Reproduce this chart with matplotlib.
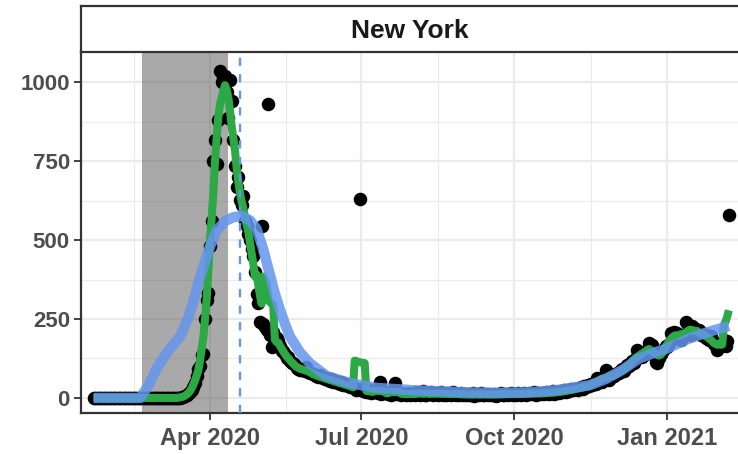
import pandas as pd
import matplotlib
matplotlib.use('Agg')
import matplotlib.pyplot as plt
import matplotlib.dates as mdates

# daily deaths (Jan 22 2020 .. Feb 7 2021)
jan_2020 = [0, 0, 0, 0, 0, 0, 0, 0, 0, 0]
feb_2020 = [0, 0, 0, 0, 0, 0, 0, 0, 0, 0, 0, 0, 0, 0, 0, 0, 0, 0, 0, 0,
            0, 0, 0, 0, 0, 0, 0, 0, 0]
mar_2020 = [0, 0, 0, 0, 0, 0, 0, 0, 0, 0, 0, 0, 0, 0, 2, 4, 6, 9, 13, 18,
            26, 35, 48, 70, 92, 100, 135, 140, 250, 310, 332]
apr_2020 = [480, 560, 750, 815, 740, 880, 1035, 1000, 1015, 1020, 968, 886,
            1005, 940, 816, 735, 668, 700, 627, 610, 640, 560, 545, 520, 500,
            470, 450, 400, 330, 300]
may_2020 = [240, 545, 235, 225, 215, 930, 200, 160, 210, 185, 190, 180, 165,
            150, 150, 140, 125, 130, 118, 112, 110, 105, 95, 92, 90, 88, 92,
            85, 98, 82, 80]
jun_2020 = [78, 75, 72, 70, 68, 72, 65, 62, 60, 64, 58, 55, 60, 52, 50, 55,
            48, 45, 50, 42, 40, 45, 38, 36, 40, 34, 32, 25, 30, 630]
jul_2020 = [28, 22, 30, 20, 18, 25, 15, 20, 18, 22, 16, 50, 14, 18, 20, 15,
            12, 16, 10, 14, 48, 12, 20, 15, 10, 12, 14, 9, 15, 11, 12]
aug_2020 = [14, 10, 18, 12, 9, 16, 22, 11, 8, 15, 13, 19, 10, 12, 17, 9, 14,
            20, 11, 13, 8, 16, 12, 10, 18, 14, 9, 13, 11, 15, 10]
sep_2020 = [12, 9, 14, 8, 11, 16, 7, 10, 13, 9, 15, 11, 8, 12, 10, 14, 9, 11,
            13, 7, 10, 12, 15, 9, 11, 14, 10, 12, 16, 11]
oct_2020 = [13, 10, 15, 12, 9, 14, 17, 11, 13, 16, 12, 15, 18, 10, 14, 17, 13,
            16, 12, 19, 15, 14, 18, 21, 13, 17, 20, 16, 22, 19, 24]
nov_2020 = [20, 24, 22, 27, 25, 30, 28, 26, 32, 35, 30, 38, 34, 40, 37, 43,
            40, 46, 44, 63, 50, 55, 52, 60, 89, 62, 58, 68, 72, 70]
dec_2020 = [75, 80, 78, 88, 92, 85, 95, 105, 100, 112, 118, 110, 125, 152,
            136, 140, 130, 145, 138, 150, 174, 161, 168, 150, 114, 111, 125,
            140, 145, 155, 165]
jan_2021 = [160, 170, 205, 195, 209, 200, 205, 190, 185, 195, 195, 240, 205,
            215, 200, 228, 221, 205, 210, 215, 200, 205, 195, 190, 200, 185,
            195, 180, 170, 175, 152]
feb_2021 = [160, 168, 175, 184, 165, 180, 580]

# fitted curve (blue), read at a set of dates
fit_dates = ['2020-01-22', '2020-02-19', '2020-02-24', '2020-02-29', '2020-03-07',
             '2020-03-14', '2020-03-19', '2020-03-22', '2020-03-25', '2020-03-28',
             '2020-04-01', '2020-04-05', '2020-04-10', '2020-04-15', '2020-04-20',
             '2020-04-25', '2020-04-29', '2020-05-03', '2020-05-07', '2020-05-10',
             '2020-05-13', '2020-05-16', '2020-05-19', '2020-05-25', '2020-05-31',
             '2020-06-10', '2020-06-24', '2020-07-10', '2020-08-03', '2020-09-01',
             '2020-09-20', '2020-10-10', '2020-10-25', '2020-11-15', '2020-11-25',
             '2020-12-05', '2020-12-15', '2020-12-25', '2021-01-01', '2021-01-14',
             '2021-01-25', '2021-02-07']
fit_vals = [0, 0, 40, 95, 150, 195, 255, 305, 365, 415, 480, 530, 560, 572, 576,
            562, 535, 470, 390, 330, 280, 235, 195, 145, 110, 70, 47, 32, 24, 18,
            16, 18, 24, 40, 60, 89, 125, 145, 157, 188, 208, 228]

deaths = (jan_2020 + feb_2020 + mar_2020 + apr_2020 + may_2020 + jun_2020 +
          jul_2020 + aug_2020 + sep_2020 + oct_2020 + nov_2020 + dec_2020 +
          jan_2021 + feb_2021)
dates = pd.date_range('2020-01-22', periods=len(deaths))
rolling = pd.Series(deaths).rolling(7, center=True, min_periods=1).mean()
fit_dates = pd.to_datetime(fit_dates)

shade_start = pd.Timestamp('2020-02-20')
shade_end = pd.Timestamp('2020-04-12')
peak_day = pd.Timestamp('2020-04-19')

W, H = 738, 454
fig = plt.figure(figsize=(W / 100, H / 100), dpi=100)
ax = fig.add_axes([81 / W, (H - 413) / H, (W - 81) / W, (413 - 52) / H])
strip = fig.add_axes([81 / W, (H - 52) / H, (W - 81) / W, (52 - 6) / H])

apr1 = pd.Timestamp('2020-04-01')
ax.set_xlim(apr1 - pd.Timedelta(days=77.6), apr1 + pd.Timedelta(days=317.5))
ax.set_ylim(-47.5, 1095)

# grid
for d in ['2020-02-15 12:00', '2020-05-16 12:00', '2020-08-16', '2020-11-16']:
    ax.axvline(pd.Timestamp(d), color='#EBEBEB', lw=0.8, zorder=0)
for d in ['2020-04-01', '2020-07-01', '2020-10-01', '2021-01-01']:
    ax.axvline(pd.Timestamp(d), color='#EBEBEB', lw=1.6, zorder=0)
for y in [125, 375, 625, 875]:
    ax.axhline(y, color='#EBEBEB', lw=0.8, zorder=0)
for y in [0, 250, 500, 750, 1000]:
    ax.axhline(y, color='#EBEBEB', lw=1.6, zorder=0)

ax.axvspan(shade_start, shade_end, color='#555555', alpha=0.5, lw=0, zorder=1)

ax.scatter(dates, deaths, s=95, color='black', linewidths=0, zorder=2)
ax.plot(dates, rolling, color='#F8766D', lw=4.5, zorder=3,
        solid_joinstyle='round', solid_capstyle='butt')
ax.plot(dates, rolling, color='#2CA844', lw=5.8, zorder=4,
        solid_joinstyle='round', solid_capstyle='butt')
ax.plot(fit_dates, fit_vals, color='#6495ED', lw=7.5, alpha=0.85, zorder=5,
        solid_joinstyle='round', solid_capstyle='butt')
ax.axvline(peak_day, color='#6495ED', lw=1.7, ls=(0, (3.5, 3.5)), zorder=6)

ax.set_xticks(pd.to_datetime(['2020-04-01', '2020-07-01', '2020-10-01', '2021-01-01']))
ax.xaxis.set_major_formatter(mdates.DateFormatter('%b %Y'))
ax.set_yticks([0, 250, 500, 750, 1000])
ax.tick_params(axis='both', colors='#333333', width=1.3, length=5,
               labelcolor='#4D4D4D', pad=3)
ax.tick_params(axis='x', labelsize=17, pad=5)
ax.tick_params(axis='y', labelsize=16)
for lab in ax.get_xticklabels() + ax.get_yticklabels():
    lab.set_fontweight('bold')
    lab.set_fontfamily('Liberation Sans')

for s in ['top', 'right']:
    ax.spines[s].set_visible(False)
for s in ['left', 'bottom']:
    ax.spines[s].set_color('#333333')
    ax.spines[s].set_linewidth(1.6)

strip.set_xticks([])
strip.set_yticks([])
strip.set_facecolor('white')
strip.spines['right'].set_visible(False)
for s in ['top', 'left', 'bottom']:
    strip.spines[s].set_color('#333333')
    strip.spines[s].set_linewidth(1.6)
strip.text(0.5, 0.45, 'New York', ha='center', va='center', fontsize=19,
           fontweight='bold', color='#1A1A1A', family='Liberation Sans',
           transform=strip.transAxes)

fig.savefig('out.png', dpi=100)
